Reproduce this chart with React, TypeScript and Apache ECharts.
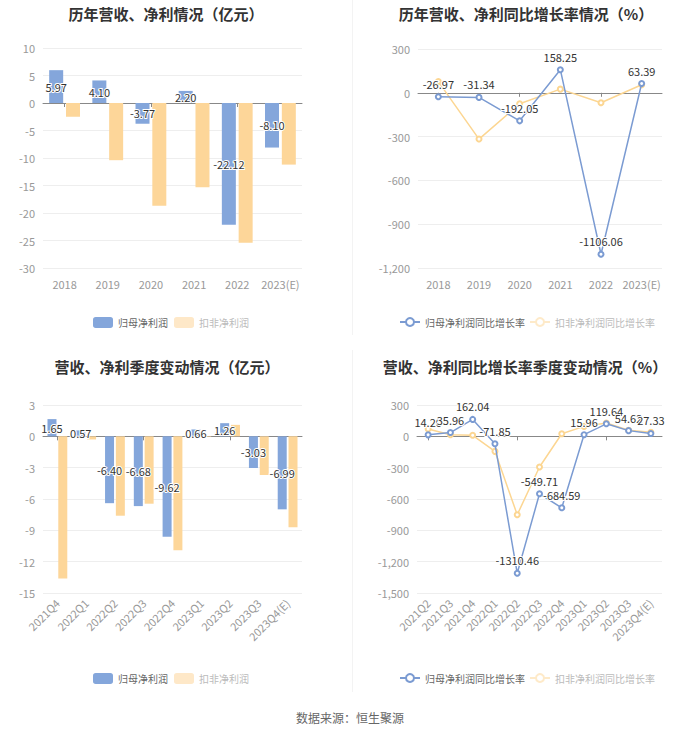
import React, { useEffect, useRef } from 'react';
import * as echarts from 'echarts';

const yearCats = ['2018', '2019', '2020', '2021', '2022', '2023(E)'];
const annualParentProfit = [5.97, 4.1, -3.77, 2.2, -22.12, -8.1];
const annualDeductedProfit = [-2.5, -10.4, -18.7, -15.3, -25.4, -11.2];
const annualParentGrowth = [-26.97, -31.34, -192.05, 158.25, -1106.06, 63.39];
const annualDeductedGrowth = [77, -317, -75, 25, -68, 55];

const quarterCats = ['2021Q4', '2022Q1', '2022Q2', '2022Q3', '2022Q4', '2023Q1', '2023Q2', '2023Q3', '2023Q4(E)'];
const quarterParentProfit = [1.65, 0.57, -6.4, -6.68, -9.62, 0.66, 1.26, -3.03, -6.99];
const quarterDeductedProfit = [-13.6, -0.3, -7.6, -6.45, -10.9, -0.05, 1.1, -3.7, -8.7];

const growthQuarterCats = ['2021Q2', '2021Q3', '2021Q4', '2022Q1', '2022Q2', '2022Q3', '2022Q4', '2023Q1', '2023Q2', '2023Q3', '2023Q4(E)'];
const quarterParentGrowth = [14.2, 35.96, 162.04, -71.85, -1310.46, -549.71, -684.59, 15.96, 119.64, 54.62, 27.33];
const quarterDeductedGrowth = [71, 16, 10, -144, -751, -294, 25, 95, 128, 58, 38];

const titles = [
  '历年营收、净利情况（亿元）',
  '历年营收、净利同比增长率情况（%）',
  '营收、净利季度变动情况（亿元）',
  '营收、净利同比增长率季度变动情况（%）',
];
const barNames = ['归母净利润', '扣非净利润'];
const lineNames = ['归母净利润同比增长率', '扣非净利润同比增长率'];
const sourceText = '数据来源：恒生聚源';

const BLUE = '#84a6db';
const ORANGE = '#fdd699';
const LBLUE = '#7b9bd2';
const LORANGE = '#fcd692';
const FONT = '"Noto Sans CJK SC", "Noto Sans", sans-serif';

export default function App() {
  const ref = useRef<HTMLDivElement>(null);
  useEffect(() => {
    if (!ref.current) return;
    const chart = echarts.init(ref.current, null, { renderer: 'svg' });

    const grids = [
      { left: 43, top: 48, width: 259, height: 220 },
      { left: 418, top: 49, width: 244, height: 219 },
      { left: 43, top: 405, width: 259, height: 188 },
      { left: 417, top: 405, width: 245, height: 188 },
    ];
    const catsList = [yearCats, yearCats, quarterCats, growthQuarterCats];
    const rotated = [false, false, true, true];

    const xAxis: any[] = [];
    catsList.forEach((cats, i) => {
      xAxis.push({
        type: 'category',
        gridIndex: i,
        data: cats,
        position: 'bottom',
        axisLine: { show: false, onZero: false },
        axisTick: { show: false },
        axisLabel: {
          color: '#999',
          fontSize: 11,
          fontFamily: FONT,
          interval: 0,
          rotate: rotated[i] ? 45 : 0,
          margin: rotated[i] ? 8 : 10,
        },
      });
      xAxis.push({
        type: 'category',
        gridIndex: i,
        data: cats,
        position: 'bottom',
        axisLine: { show: true, onZero: true, lineStyle: { color: '#888', width: 1 } },
        axisTick: { show: true, alignWithLabel: true, length: 4, lineStyle: { color: '#888' } },
        axisLabel: { show: false },
      });
    });

    const yCfg = [
      { min: -30, max: 10, interval: 5 },
      { min: -1200, max: 300, interval: 300 },
      { min: -15, max: 3, interval: 3 },
      { min: -1500, max: 300, interval: 300 },
    ];
    const yAxis = yCfg.map((c, i) => ({
      type: 'value',
      gridIndex: i,
      min: c.min,
      max: c.max,
      interval: c.interval,
      axisLine: { show: false },
      axisTick: { show: false },
      splitLine: { lineStyle: { color: '#eeeeee' } },
      axisLabel: {
        color: '#999',
        fontSize: 11,
        fontFamily: FONT,
        formatter: (v: number) => v.toLocaleString('en-US'),
      },
    }));

    const dataLabel = {
      color: '#333',
      fontSize: 11,
      fontFamily: FONT,
      textBorderColor: '#fff',
      textBorderWidth: 2,
      formatter: (p: any) => Number(p.value).toFixed(2),
    };

    const barSeries = (xi: number, yi: number, blue: number[], orange: number[], w: number) => [
      {
        name: barNames[0],
        type: 'bar',
        xAxisIndex: xi,
        yAxisIndex: yi,
        data: blue,
        barWidth: w,
        barGap: '20%',
        itemStyle: { color: BLUE },
        label: { show: true, position: 'inside', ...dataLabel },
        z: 3,
      },
      {
        name: barNames[1],
        type: 'bar',
        xAxisIndex: xi,
        yAxisIndex: yi,
        data: orange,
        barWidth: w,
        barGap: '20%',
        itemStyle: { color: ORANGE },
        z: 2,
      },
    ];
    const lineSeries = (xi: number, yi: number, blue: number[], orange: number[]) => [
      {
        name: lineNames[0],
        type: 'line',
        xAxisIndex: xi,
        yAxisIndex: yi,
        data: blue,
        symbol: 'emptyCircle',
        symbolSize: 5,
        itemStyle: { color: LBLUE },
        lineStyle: { color: LBLUE, width: 1.5 },
        label: { show: true, position: 'top', distance: 4, ...dataLabel },
        z: 3,
      },
      {
        name: lineNames[1],
        type: 'line',
        xAxisIndex: xi,
        yAxisIndex: yi,
        data: orange,
        symbol: 'emptyCircle',
        symbolSize: 5,
        itemStyle: { color: LORANGE },
        lineStyle: { color: LORANGE, width: 1.5 },
        z: 2,
      },
    ];

    const legendBase = {
      textStyle: { color: '#666', fontSize: 10, fontFamily: FONT },
    };
    const barLegendData = [
      { name: barNames[0] },
      { name: barNames[1], itemStyle: { color: '#fee8c8' }, textStyle: { color: '#bbb' } },
    ];
    const lineLegendData = [
      { name: lineNames[0] },
      { name: lineNames[1], itemStyle: { color: '#feeac9', borderColor: '#feeac9' }, lineStyle: { color: '#feeac9' }, textStyle: { color: '#bbb' } },
    ];

    const titleText = (t: string, x: number, y: number) => ({
      type: 'text',
      x,
      y,
      style: {
        text: t,
        fill: '#333',
        font: `bold 15px ${FONT}`,
        textAlign: 'center',
        textVerticalAlign: 'middle',
      },
    });

    chart.setOption({
      animation: false,
      backgroundColor: '#fff',
      grid: grids,
      xAxis,
      yAxis,
      legend: [
        { ...legendBase, left: 88, top: 312, itemGap: 6, itemWidth: 20, itemHeight: 11, icon: 'roundRect', data: barLegendData },
        { ...legendBase, left: 394, top: 312, itemGap: 4, itemWidth: 20, itemHeight: 10, data: lineLegendData },
        { ...legendBase, left: 88, top: 668, itemGap: 6, itemWidth: 20, itemHeight: 11, icon: 'roundRect', data: barLegendData },
        { ...legendBase, left: 394, top: 668, itemGap: 4, itemWidth: 20, itemHeight: 10, data: lineLegendData },
      ],
      series: [
        ...barSeries(0, 0, annualParentProfit, annualDeductedProfit, 14),
        ...lineSeries(2, 1, annualParentGrowth, annualDeductedGrowth),
        ...barSeries(4, 2, quarterParentProfit, quarterDeductedProfit, 9),
        ...lineSeries(6, 3, quarterParentGrowth, quarterDeductedGrowth),
      ],
      graphic: [
        titleText(titles[0], 166, 13),
        titleText(titles[1], 526, 13),
        titleText(titles[2], 167, 366),
        titleText(titles[3], 525, 366),
        {
          type: 'text',
          x: 350,
          y: 717,
          style: {
            text: sourceText,
            fill: '#666',
            font: `12px ${FONT}`,
            textAlign: 'center',
            textVerticalAlign: 'middle',
          },
        },
        { type: 'line', shape: { x1: 352.5, y1: 0, x2: 352.5, y2: 335 }, style: { stroke: '#f3f3f3', lineWidth: 1 } },
        { type: 'line', shape: { x1: 352.5, y1: 350, x2: 352.5, y2: 692 }, style: { stroke: '#f3f3f3', lineWidth: 1 } },
      ],
    });
    return () => chart.dispose();
  }, []);
  return (
    <div
      ref={ref}
      style={{ position: 'fixed', left: 0, top: 0, width: 700, height: 734, background: '#fff' }}
    />
  );
}
